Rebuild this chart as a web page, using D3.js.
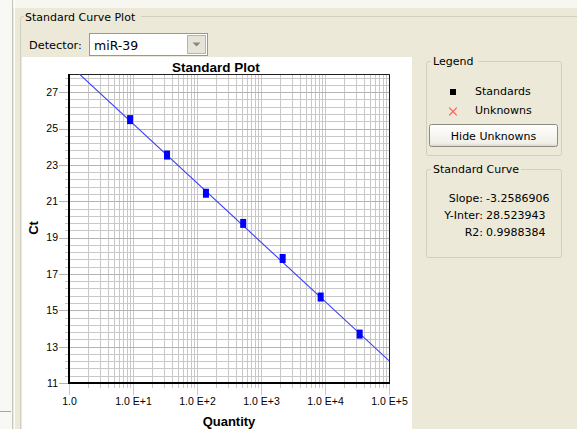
<!DOCTYPE html>
<html>
<head>
<meta charset="utf-8">
<script src="https://cdn.jsdelivr.net/npm/d3@7"></script>
<style>
  html, body { margin: 0; padding: 0; background: #ECE9D8; }
  svg { display: block; }
</style>
</head>
<body>
<svg id="chart" width="577" height="429"></svg>
<script>
// ---- Data ----
const quantities = [9, 34, 138, 527, 2180, 8560, 34800];
const ctValues   = [25.49, 23.54, 21.44, 19.78, 17.85, 15.73, 13.69];
const slope = -3.2586906;
const intercept = 28.523943;
const r2 = 0.9988384;
const xTickValues = [1, 10, 100, 1000, 10000, 100000];
const xTickLabels = ["1.0", "1.0 E+1", "1.0 E+2", "1.0 E+3", "1.0 E+4", "1.0 E+5"];
const yTickValues = [11, 13, 15, 17, 19, 21, 23, 25, 27];
const yTickLabels = ["11", "13", "15", "17", "19", "21", "23", "25", "27"];
const detectorName = "miR-39";
const statLabels = ["Slope:", "Y-Inter:", "R2:"];
const statValues = ["-3.2586906", "28.523943", "0.9988384"];
const legendItems = ["Standards", "Unknowns"];

const svg = d3.select("#chart");
const UI = "DejaVu Sans, Verdana, sans-serif";
const PF = "Liberation Sans, Arial, sans-serif";

// ---- Window chrome ----
svg.append("rect").attr("x", 0).attr("y", 0).attr("width", 577).attr("height", 429).attr("fill", "#ECE9D8");
svg.append("rect").attr("x", 0).attr("y", 0).attr("width", 577).attr("height", 8).attr("fill", "#F7F6F1");
svg.append("rect").attr("x", 0).attr("y", 0).attr("width", 12).attr("height", 429).attr("fill", "#F8F8F4");
svg.append("rect").attr("x", 12).attr("y", 0).attr("width", 1).attr("height", 429).attr("fill", "#C9C6B4");
svg.append("rect").attr("x", 14).attr("y", 0).attr("width", 1).attr("height", 429).attr("fill", "#FFFFFF");
svg.append("line").attr("x1", 0).attr("x2", 11).attr("y1", 411.5).attr("y2", 411.5).attr("stroke", "#A8A69A");

// Group box "Standard Curve Plot"
svg.append("path").attr("d", "M20.5,430 L20.5,19 Q20.5,16.5 23,16.5 L577,16.5").attr("fill", "none").attr("stroke", "#D0D0BF");
svg.append("rect").attr("x", 24).attr("y", 9).attr("width", 117).attr("height", 14).attr("fill", "#ECE9D8");
svg.append("text").attr("x", 25).attr("y", 21).attr("font-family", UI).attr("font-size", 11).attr("fill", "#000").text("Standard Curve Plot");

// Detector
svg.append("text").attr("x", 29).attr("y", 49).attr("font-family", UI).attr("font-size", 11.3).attr("fill", "#000").text("Detector:");
svg.append("rect").attr("x", 89.5).attr("y", 33.5).attr("width", 118).attr("height", 22).attr("fill", "#FFFFFF").attr("stroke", "#7F9DB9");
svg.append("text").attr("x", 94).attr("y", 50).attr("font-family", UI).attr("font-size", 12.5).attr("fill", "#000").text(detectorName);
svg.append("rect").attr("x", 187.5).attr("y", 35.5).attr("width", 18).attr("height", 18).attr("fill", "#E6E4D8").attr("stroke", "#B8B5A6");
svg.append("path").attr("d", "M192.5,42.5 L200.5,42.5 L196.5,46.5 Z").attr("fill", "#8A8878");

// White plot panel
svg.append("rect").attr("x", 22).attr("y", 57).attr("width", 390).attr("height", 372).attr("fill", "#FFFFFF");

// ---- Plot ----
const L = 69, R = 389, T = 74, B = 383;
const x = d3.scaleLog().domain([1, 1e5]).range([L, R]);
const y = d3.scaleLinear().domain([11, 28]).range([B, T]);

// grid values
const xMinor = [];
for (let d = 0; d < 5; d++) for (let k = 1; k <= 9; k++) xMinor.push(k * Math.pow(10, d));
xMinor.push(1e5);
const yMinor = d3.range(0, 43).map(i => +(11 + 0.4 * i).toFixed(2)).filter(v => v <= 28);

const g = svg.append("g");
// vertical grid
g.selectAll(".vg").data(xMinor).join("line")
  .attr("x1", d => Math.round(x(d)) + 0.5).attr("x2", d => Math.round(x(d)) + 0.5)
  .attr("y1", T).attr("y2", d => xTickValues.includes(d) ? B + 12 : B + 5)
  .attr("stroke", "#C8C8C8").attr("stroke-width", 1);
// horizontal grid
g.selectAll(".hg").data(yMinor).join("line")
  .attr("x1", d => yTickValues.includes(d) ? L - 10 : L - 4).attr("x2", R)
  .attr("y1", d => Math.round(y(d)) + 0.5).attr("y2", d => Math.round(y(d)) + 0.5)
  .attr("stroke", d => yTickValues.includes(d) ? "#B4B4B4" : "#C8C8C8").attr("stroke-width", 1);

// frame
g.append("line").attr("x1", L).attr("x2", R + 1).attr("y1", T + 0.5).attr("y2", T + 0.5).attr("stroke", "#202020");
g.append("line").attr("x1", R + 0.5).attr("x2", R + 0.5).attr("y1", T).attr("y2", B).attr("stroke", "#202020");
g.append("line").attr("x1", L).attr("x2", L).attr("y1", T).attr("y2", B + 1).attr("stroke", "#000").attr("stroke-width", 2);
g.append("line").attr("x1", L - 1).attr("x2", R + 1).attr("y1", B).attr("y2", B).attr("stroke", "#000").attr("stroke-width", 2);

// axes labels via d3 axes (ticks drawn by grid; axis used for labels)
const xAxis = d3.axisBottom(x).tickValues(xTickValues).tickFormat((d, i) => xTickLabels[i]).tickSize(0).tickPadding(0);
const xa = svg.append("g").attr("transform", `translate(0,${B + 19})`).call(xAxis);
xa.select(".domain").remove();
xa.selectAll("text").attr("font-family", PF).attr("font-size", 10.5).attr("fill", "#000").attr("dy", "0.32em").attr("y", 0);

const yAxis = d3.axisLeft(y).tickValues(yTickValues).tickFormat((d, i) => yTickLabels[i]).tickSize(0).tickPadding(0);
const ya = svg.append("g").attr("transform", `translate(${L - 11},0)`).call(yAxis);
ya.select(".domain").remove();
ya.selectAll("text").attr("font-family", PF).attr("font-size", 10.5).attr("fill", "#000");

// titles
svg.append("text").attr("x", 216).attr("y", 72).attr("text-anchor", "middle").attr("font-family", PF).attr("font-weight", "bold").attr("font-size", 13.5).text("Standard Plot");
svg.append("text").attr("x", 229).attr("y", 426).attr("text-anchor", "middle").attr("font-family", PF).attr("font-weight", "bold").attr("font-size", 13).text("Quantity");
svg.append("text").attr("transform", "translate(38,228) rotate(-90)").attr("text-anchor", "middle").attr("font-family", PF).attr("font-weight", "bold").attr("font-size", 13).text("Ct");

// clip
svg.append("clipPath").attr("id", "plotclip").append("rect").attr("x", L).attr("y", T).attr("width", R - L).attr("height", B - T);

// regression line
const lineX = x.domain();
const lineData = [lineX[0], lineX[1]].map(q => [q, slope * Math.log10(q) + intercept]);
svg.append("path").datum(lineData)
  .attr("clip-path", "url(#plotclip)")
  .attr("d", d3.line().x(d => x(d[0])).y(d => y(d[1])))
  .attr("fill", "none").attr("stroke", "#3D3DF5").attr("stroke-width", 1.1);

// standards
svg.selectAll(".std").data(quantities).join("rect")
  .attr("x", d => x(d) - 3).attr("y", (d, i) => y(ctValues[i]) - 4.5)
  .attr("width", 6).attr("height", 9).attr("fill", "#0000FF");

// ---- Legend group box ----
function groupBox(x0, y0, w, h, title, tw) {
  svg.append("rect").attr("x", x0 + 0.5).attr("y", y0 + 0.5).attr("width", w).attr("height", h)
    .attr("rx", 2).attr("fill", "none").attr("stroke", "#D0D0BF");
  svg.append("rect").attr("x", x0 + 5).attr("y", y0 - 6).attr("width", tw).attr("height", 13).attr("fill", "#ECE9D8");
  svg.append("text").attr("x", x0 + 7).attr("y", y0 + 4).attr("font-family", UI).attr("font-size", 11).attr("fill", "#000").text(title);
}
groupBox(426, 61, 135, 94, "Legend", 47);
svg.append("rect").attr("x", 450).attr("y", 89).attr("width", 6).attr("height", 6).attr("fill", "#000");
const xm = 453, ym = 111.5, s = 3.8;
svg.append("path").attr("d", `M${xm - s},${ym - s} L${xm + s},${ym + s} M${xm + s},${ym - s} L${xm - s},${ym + s}`)
  .attr("stroke", "#FF5A5A").attr("stroke-width", 1.2).attr("fill", "none");
svg.selectAll(".legtxt").data(legendItems).join("text")
  .attr("x", 475).attr("y", (d, i) => 95 + i * 19).attr("font-family", UI).attr("font-size", 11).attr("fill", "#000").text(d => d);

// button
const grad = svg.append("defs").append("linearGradient").attr("id", "btn").attr("x1", 0).attr("y1", 0).attr("x2", 0).attr("y2", 1);
grad.append("stop").attr("offset", "0%").attr("stop-color", "#FFFFFF");
grad.append("stop").attr("offset", "85%").attr("stop-color", "#F0EFE8");
grad.append("stop").attr("offset", "100%").attr("stop-color", "#D6D3C6");
svg.append("rect").attr("x", 429.5).attr("y", 124.5).attr("width", 128).attr("height", 22).attr("rx", 2)
  .attr("fill", "url(#btn)").attr("stroke", "#8E8C80");
svg.append("text").attr("x", 493.5).attr("y", 140).attr("text-anchor", "middle").attr("font-family", UI).attr("font-size", 11).attr("fill", "#000").text("Hide Unknowns");

// ---- Standard Curve group box ----
groupBox(426, 169, 135, 88, "Standard Curve", 90);
svg.selectAll(".slab").data(statLabels).join("text")
  .attr("x", 483).attr("y", (d, i) => 202 + i * 17).attr("text-anchor", "end")
  .attr("font-family", UI).attr("font-size", 11).attr("fill", "#000").text(d => d);
svg.selectAll(".sval").data(statValues).join("text")
  .attr("x", 486).attr("y", (d, i) => 202 + i * 17)
  .attr("font-family", UI).attr("font-size", 11).attr("fill", "#000").text(d => d);
</script>
</body>
</html>
